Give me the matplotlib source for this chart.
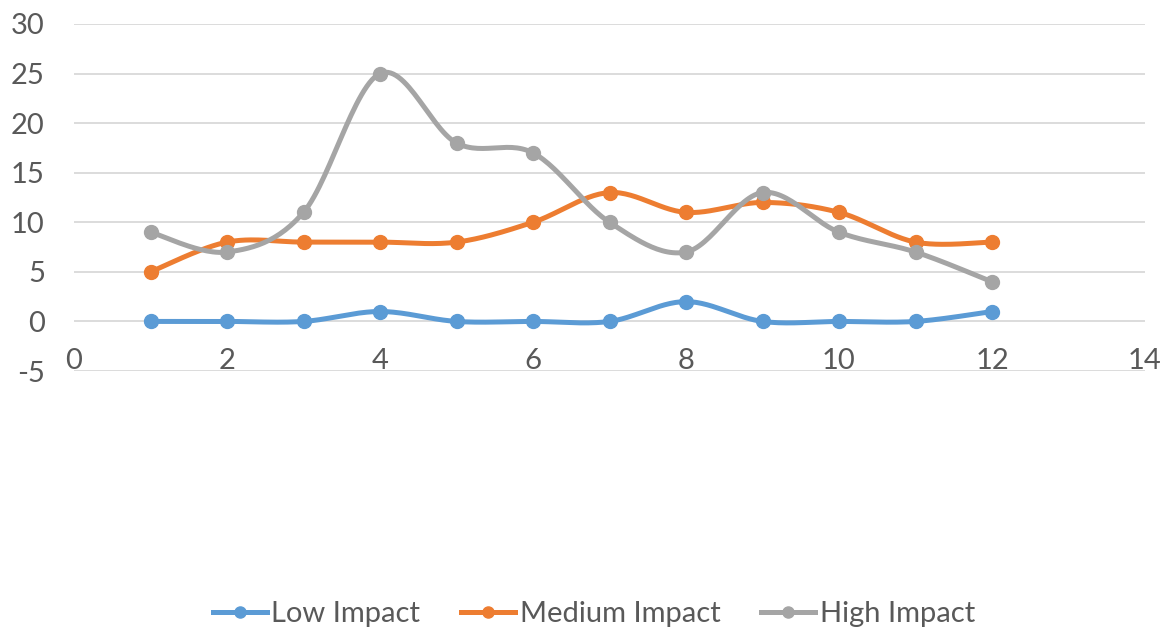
import numpy as np
import matplotlib.pyplot as plt

# data
months = [1, 2, 3, 4, 5, 6, 7, 8, 9, 10, 11, 12]
low_impact = [0, 0, 0, 1, 0, 0, 0, 2, 0, 0, 0, 1]
medium_impact = [5, 8, 8, 8, 8, 10, 13, 11, 12, 11, 8, 8]
high_impact = [9, 7, 11, 25, 18, 17, 10, 7, 13, 9, 7, 4]

series = [
    ("Low Impact", low_impact, "#5B9BD5"),
    ("Medium Impact", medium_impact, "#ED7D31"),
    ("High Impact", high_impact, "#A5A5A5"),
]


def smooth_curve(x, y, steps=30):
    # catmull-rom style bezier through every point (like spreadsheet smoothed lines)
    x = np.asarray(x, float)
    y = np.asarray(y, float)
    px = np.concatenate([[x[0]], x, [x[-1]]])
    py = np.concatenate([[y[0]], y, [y[-1]]])
    xs, ys = [], []
    t = np.linspace(0, 1, steps)
    for i in range(1, len(px) - 2):
        p0 = np.array([px[i], py[i]])
        p3 = np.array([px[i + 1], py[i + 1]])
        p1 = p0 + (np.array([px[i + 1], py[i + 1]]) - np.array([px[i - 1], py[i - 1]])) / 6
        p2 = p3 - (np.array([px[i + 2], py[i + 2]]) - np.array([px[i], py[i]])) / 6
        b = ((1 - t) ** 3)[:, None] * p0 + (3 * (1 - t) ** 2 * t)[:, None] * p1 \
            + (3 * (1 - t) * t ** 2)[:, None] * p2 + (t ** 3)[:, None] * p3
        xs.extend(b[:, 0])
        ys.extend(b[:, 1])
    return xs, ys


plt.rcParams['font.family'] = ['Lato', 'DejaVu Sans']
plt.rcParams['axes.unicode_minus'] = False

fig = plt.figure(figsize=(11.73, 6.28), dpi=100)
ax = fig.add_axes([74 / 1173, 1 - 371 / 628, (1145 - 74) / 1173, (371 - 24) / 628])

for name, values, color in series:
    sx, sy = smooth_curve(months, values)
    ax.plot(sx, sy, color=color, lw=3.6, solid_capstyle='round', zorder=3)
    ax.plot(months, values, 'o', color=color, ms=10, zorder=4)
    # legend proxy
    ax.plot([], [], '-o', color=color, lw=3.6, ms=8, label=name)

ax.set_xlim(0, 14)
ax.set_ylim(-5, 30)
ax.set_xticks(range(0, 15, 2))
ax.set_yticks(range(-5, 31, 5))
ax.grid(axis='y', color='#D9D9D9', lw=1.3, zorder=0)
ax.set_axisbelow(True)

for s in ['top', 'right', 'left']:
    ax.spines[s].set_visible(False)
ax.spines['bottom'].set_position(('data', 0))
ax.spines['bottom'].set_visible(False)

ax.tick_params(axis='both', length=0, labelsize=21, colors='#595959')
ax.tick_params(axis='x', pad=19)
ax.tick_params(axis='y', pad=21)

ax.legend(loc='center', bbox_to_anchor=(0.4855, -0.7), ncol=3, frameon=False,
          fontsize=21, handlelength=1.85, handletextpad=0.15, columnspacing=1.4,
          labelcolor='#595959')

plt.savefig("out.png", dpi=100)
